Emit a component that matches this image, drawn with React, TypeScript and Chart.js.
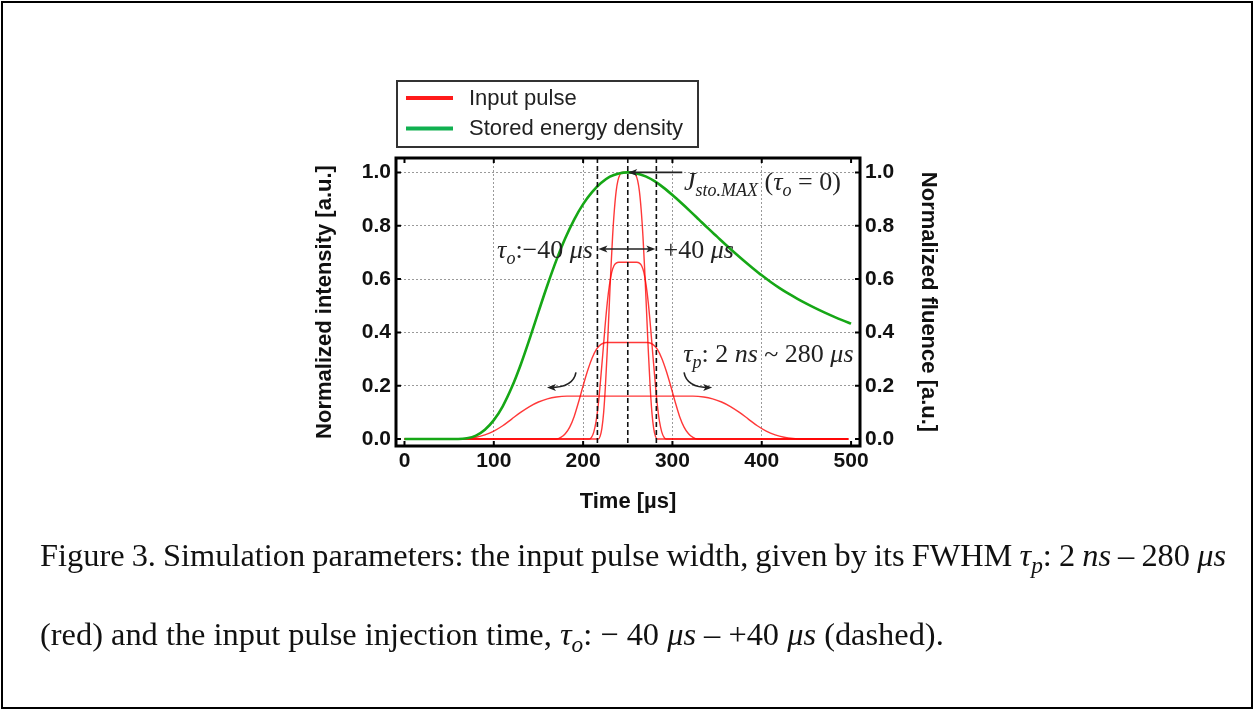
import React, { useEffect, useLayoutEffect, useRef } from "react";
import { Chart, registerables } from "chart.js";

Chart.register(...registerables);

// ---------- data ----------
const timeTicks = [0, 100, 200, 300, 400, 500];
const valueTicks = [0, 0.2, 0.4, 0.6, 0.8, 1.0];

// Stored energy density (green)
const storedTime = [0, 60, 70, 80, 90, 100, 110, 120, 130, 140, 150, 160, 170, 180, 190, 200, 210, 220, 230, 240, 250, 260, 270, 280, 290, 300, 310, 320, 330, 340, 350, 360, 370, 380, 390, 400, 410, 420, 430, 440, 450, 460, 470, 480, 490, 500];
const storedEnergy = [0, 0, 0.003, 0.013, 0.035, 0.071, 0.123, 0.193, 0.278, 0.375, 0.477, 0.577, 0.67, 0.753, 0.823, 0.881, 0.926, 0.96, 0.984, 0.996, 1.0, 0.996, 0.985, 0.967, 0.943, 0.915, 0.885, 0.854, 0.822, 0.79, 0.759, 0.728, 0.698, 0.669, 0.641, 0.614, 0.589, 0.566, 0.545, 0.526, 0.508, 0.491, 0.475, 0.46, 0.446, 0.433];

// Input pulses (red), from the narrowest to the widest FWHM
const pulse1Time = [0, 217, 219, 221, 223, 225, 227, 229, 231, 233, 235, 237, 239, 241, 243, 257, 259, 261, 263, 265, 267, 269, 271, 273, 275, 277, 279, 281, 283, 497];
const pulse1Value = [0, 0, 0.01, 0.04, 0.1, 0.2, 0.33, 0.48, 0.63, 0.76, 0.86, 0.93, 0.97, 0.99, 1.0, 1.0, 0.99, 0.97, 0.93, 0.86, 0.76, 0.63, 0.48, 0.33, 0.2, 0.1, 0.04, 0.01, 0, 0];

const pulse2Time = [0, 207, 209.5, 212, 214.5, 217, 219.5, 222, 224.5, 227, 229.5, 232, 234.5, 237, 240, 260, 263, 265.5, 268, 270.5, 273, 275.5, 278, 280.5, 283, 285.5, 288, 290.5, 293, 497];
const pulse2Value = [0, 0, 0.007, 0.027, 0.066, 0.13, 0.22, 0.318, 0.42, 0.51, 0.578, 0.625, 0.65, 0.66, 0.663, 0.663, 0.66, 0.65, 0.625, 0.578, 0.51, 0.42, 0.318, 0.22, 0.13, 0.066, 0.027, 0.007, 0, 0];

const pulse3Time = [0, 170, 175, 180, 185, 190, 195, 200, 205, 210, 215, 220, 226, 272, 278, 283, 288, 293, 298, 303, 308, 313, 318, 323, 328, 497];
const pulse3Value = [0, 0, 0.006, 0.02, 0.045, 0.085, 0.14, 0.2, 0.256, 0.303, 0.337, 0.355, 0.362, 0.362, 0.355, 0.337, 0.303, 0.256, 0.2, 0.14, 0.085, 0.045, 0.02, 0.006, 0, 0];

const pulse4Time = [0, 60, 70, 80, 90, 100, 110, 120, 130, 140, 150, 160, 170, 182, 323, 335, 345, 355, 365, 375, 385, 395, 405, 415, 425, 435, 445, 497];
const pulse4Value = [0, 0, 0.002, 0.007, 0.016, 0.03, 0.05, 0.075, 0.1, 0.122, 0.139, 0.151, 0.158, 0.161, 0.161, 0.158, 0.151, 0.139, 0.122, 0.1, 0.075, 0.05, 0.03, 0.016, 0.007, 0.002, 0, 0];

// Injection times (dashed lines): tau_o = -40, 0, +40 us, as drawn
const injectionTimes = [216, 250, 282];

// ---------- layout / style ----------
const W = 1255;
const H = 711;
const X_MIN = -9.5;
const X_MAX = 510;
const Y_MIN = -0.026;
const Y_MAX = 1.054;

const SANS = "'Liberation Sans', Arial, sans-serif";
const SERIF = "'Liberation Serif', 'Times New Roman', serif";
const RED = "rgba(255,0,0,0.78)";
const GREEN = "#16a716";
const NOTE = 26;
const CAPTION_WIDTH = 1186;

const pts = (xs: number[], ys: number[]) => xs.map((x, i) => ({ x, y: ys[i] }));

type Part = { t: string; it?: boolean; sub?: boolean };

function drawRich(ctx: CanvasRenderingContext2D, x: number, y: number, parts: Part[], size: number, align: "left" | "right") {
  const fontOf = (p: Part) => `${p.it ? "italic " : ""}${p.sub ? Math.round(size * 0.7) : size}px ${SERIF}`;
  let total = 0;
  for (const p of parts) {
    ctx.font = fontOf(p);
    total += ctx.measureText(p.t).width;
  }
  let cx = align === "left" ? x : x - total;
  ctx.textBaseline = "alphabetic";
  ctx.textAlign = "left";
  for (const p of parts) {
    ctx.font = fontOf(p);
    ctx.fillText(p.t, cx, p.sub ? y + size * 0.25 : y);
    cx += ctx.measureText(p.t).width;
  }
}

function arrowHead(ctx: CanvasRenderingContext2D, tx: number, ty: number, angle: number, len = 9, half = 3.5) {
  ctx.save();
  ctx.translate(tx, ty);
  ctx.rotate(angle);
  ctx.beginPath();
  ctx.moveTo(0, 0);
  ctx.lineTo(-len, -half);
  ctx.lineTo(-len * 0.75, 0);
  ctx.lineTo(-len, half);
  ctx.closePath();
  ctx.fill();
  ctx.restore();
}

const overlayPlugin = {
  id: "overlay",
  afterDatasetsDraw(chart: any) {
    const { ctx, chartArea: a, scales } = chart;
    const xs = scales.x;
    const ys = scales.y;
    const px = (t: number) => xs.getPixelForValue(t);
    const py = (v: number) => ys.getPixelForValue(v);
    ctx.save();

    // dashed injection-time lines
    ctx.setLineDash([5, 3]);
    ctx.strokeStyle = "#111";
    ctx.lineWidth = 1.6;
    for (const t of injectionTimes) {
      ctx.beginPath();
      ctx.moveTo(px(t), a.top);
      ctx.lineTo(px(t), a.bottom);
      ctx.stroke();
    }
    ctx.setLineDash([]);

    // frame
    ctx.strokeStyle = "#000";
    ctx.lineWidth = 3;
    ctx.strokeRect(a.left, a.top, a.right - a.left, a.bottom - a.top);

    // inward tick marks
    ctx.lineWidth = 2;
    for (const t of timeTicks) {
      const x = px(t);
      ctx.beginPath();
      ctx.moveTo(x, a.bottom);
      ctx.lineTo(x, a.bottom - 5);
      ctx.moveTo(x, a.top);
      ctx.lineTo(x, a.top + 5);
      ctx.stroke();
    }
    for (const v of valueTicks) {
      const y = py(v);
      ctx.beginPath();
      ctx.moveTo(a.left, y);
      ctx.lineTo(a.left + 5, y);
      ctx.moveTo(a.right, y);
      ctx.lineTo(a.right - 5, y);
      ctx.stroke();
    }

    // annotations
    ctx.fillStyle = "#222";
    ctx.strokeStyle = "#222";
    ctx.lineWidth = 1.6;

    // J_sto.MAX arrow
    ctx.beginPath();
    ctx.moveTo(px(311), py(1.0));
    ctx.lineTo(px(252), py(1.0));
    ctx.stroke();
    arrowHead(ctx, px(250.5), py(1.0), Math.PI);
    drawRich(ctx, px(313), py(0.935), [
      { t: "J", it: true },
      { t: "sto.MAX", it: true, sub: true },
      { t: " (" },
      { t: "τ", it: true },
      { t: "o", it: true, sub: true },
      { t: " = 0)" },
    ], NOTE, "left");

    // double arrow between the -40 / +40 lines
    const yArr = py(0.713);
    ctx.beginPath();
    ctx.moveTo(px(injectionTimes[0]) + 4, yArr);
    ctx.lineTo(px(injectionTimes[2]) - 4, yArr);
    ctx.stroke();
    arrowHead(ctx, px(injectionTimes[0]) + 1, yArr, Math.PI);
    arrowHead(ctx, px(injectionTimes[2]) - 1, yArr, 0);
    drawRich(ctx, px(211), py(0.68), [
      { t: "τ", it: true },
      { t: "o", it: true, sub: true },
      { t: ":−40 " },
      { t: "μs", it: true },
    ], NOTE, "right");
    drawRich(ctx, px(290), py(0.68), [
      { t: "+40 " },
      { t: "μs", it: true },
    ], NOTE, "left");

    // tau_p label
    drawRich(ctx, px(312), py(0.29), [
      { t: "τ", it: true },
      { t: "p", it: true, sub: true },
      { t: ": 2 " },
      { t: "ns", it: true },
      { t: " ~ 280 " },
      { t: "μs", it: true },
    ], NOTE, "left");

    // curved arrows
    ctx.lineWidth = 1.6;
    ctx.beginPath();
    ctx.moveTo(px(192), py(0.25));
    ctx.quadraticCurveTo(px(189), py(0.193), px(163), py(0.193));
    ctx.stroke();
    arrowHead(ctx, px(159.5), py(0.193), Math.PI);
    ctx.beginPath();
    ctx.moveTo(px(313), py(0.25));
    ctx.quadraticCurveTo(px(316), py(0.193), px(341), py(0.193));
    ctx.stroke();
    arrowHead(ctx, px(344.5), py(0.193), 0);

    // legend
    const lx = a.left + 1;
    const ly = a.top - 77;
    ctx.lineWidth = 2;
    ctx.strokeStyle = "#333";
    ctx.strokeRect(lx, ly, 301, 66);
    ctx.lineWidth = 4;
    ctx.strokeStyle = "#ff1a1a";
    ctx.beginPath();
    ctx.moveTo(lx + 9, ly + 17);
    ctx.lineTo(lx + 56, ly + 17);
    ctx.stroke();
    ctx.strokeStyle = "#10b050";
    ctx.beginPath();
    ctx.moveTo(lx + 9, ly + 47.5);
    ctx.lineTo(lx + 56, ly + 47.5);
    ctx.stroke();
    ctx.fillStyle = "#222";
    ctx.font = `22px ${SANS}`;
    ctx.textAlign = "left";
    ctx.textBaseline = "middle";
    ctx.fillText("Input pulse", lx + 72, ly + 18);
    ctx.fillText("Stored energy density", lx + 72, ly + 48);

    ctx.restore();
  },
};

export default function App() {
  const ref = useRef<HTMLCanvasElement>(null);
  const line1 = useRef<HTMLSpanElement>(null);

  useLayoutEffect(() => {
    // fit the first (justified) caption line to the text width
    const el = line1.current;
    if (!el) return;
    el.style.wordSpacing = "0px";
    const w = el.getBoundingClientRect().width;
    const spaces = (el.textContent || "").split(" ").length - 1;
    if (spaces > 0) el.style.wordSpacing = `${(CAPTION_WIDTH - w) / spaces}px`;
  }, []);

  useEffect(() => {
    document.body.style.margin = "0";
    const tickFont = { family: SANS, size: 21, weight: "bold" as const };
    const titleFont = { family: SANS, size: 22, weight: "bold" as const };
    const gridColor = (hidden: number[]) => (c: any) =>
      c.tick && hidden.includes(c.tick.value) ? "rgba(0,0,0,0)" : "#9a9a9a";

    const mkRed = (xs: number[], ys: number[]) => ({
      label: "Input pulse",
      data: pts(xs, ys),
      borderColor: RED,
      borderWidth: 1.4,
      pointRadius: 0,
      cubicInterpolationMode: "monotone" as const,
      fill: false,
    });

    const chart = new Chart(ref.current!, {
      type: "line",
      data: {
        datasets: [
          {
            label: "Stored energy density",
            data: pts(storedTime, storedEnergy),
            borderColor: GREEN,
            borderWidth: 2.6,
            pointRadius: 0,
            cubicInterpolationMode: "monotone",
            fill: false,
          },
          mkRed(pulse1Time, pulse1Value),
          mkRed(pulse2Time, pulse2Value),
          mkRed(pulse3Time, pulse3Value),
          mkRed(pulse4Time, pulse4Value),
        ],
      },
      options: {
        responsive: false,
        animation: false,
        devicePixelRatio: 1,
        layout: { padding: { left: 300, top: 158, right: 295, bottom: 165 } },
        plugins: { legend: { display: false }, tooltip: { enabled: false }, title: { display: false } },
        scales: {
          x: {
            type: "linear",
            min: X_MIN,
            max: X_MAX,
            afterBuildTicks: (s: any) => { s.ticks = timeTicks.map((v) => ({ value: v })); },
            afterFit: (s: any) => { s.height = 100; s.paddingLeft = 0; s.paddingRight = 0; },
            ticks: { font: tickFont, color: "#111", padding: 3, maxRotation: 0, autoSkip: false, callback: (v: any) => String(v) },
            grid: { color: gridColor([0, 500]), lineWidth: 1, drawTicks: false },
            border: { display: false, dash: [2, 2] },
            title: { display: true, text: "Time [µs]", font: titleFont, color: "#111", padding: { top: 0, bottom: 31 } },
          },
          y: {
            type: "linear",
            position: "left",
            min: Y_MIN,
            max: Y_MAX,
            afterBuildTicks: (s: any) => { s.ticks = valueTicks.map((v) => ({ value: v })); },
            afterFit: (s: any) => { s.width = 96; s.paddingTop = 0; s.paddingBottom = 0; },
            ticks: { font: tickFont, color: "#111", padding: 5, autoSkip: false, callback: (v: any) => Number(v).toFixed(1) },
            grid: { color: gridColor([0]), lineWidth: 1, drawTicks: false },
            border: { display: false, dash: [2, 2] },
            title: { display: true, text: "Normalized intensity [a.u.]", font: titleFont, color: "#111", padding: { top: 12, bottom: 0 } },
          },
          y2: {
            type: "linear",
            position: "right",
            min: Y_MIN,
            max: Y_MAX,
            afterBuildTicks: (s: any) => { s.ticks = valueTicks.map((v) => ({ value: v })); },
            afterFit: (s: any) => { s.width = 100; s.paddingTop = 0; s.paddingBottom = 0; },
            ticks: { font: tickFont, color: "#111", padding: 5, autoSkip: false, callback: (v: any) => Number(v).toFixed(1) },
            grid: { drawOnChartArea: false, drawTicks: false },
            border: { display: false },
            title: { display: true, text: "Normalized fluence [a.u.]", font: titleFont, color: "#111", padding: { top: 19, bottom: 0 } },
          },
        },
      },
      plugins: [overlayPlugin],
    } as any);
    return () => chart.destroy();
  }, []);

  const cap: React.CSSProperties = {
    position: "absolute",
    left: 40,
    fontFamily: SERIF,
    fontSize: 32.4,
    lineHeight: "40px",
    color: "#111",
    whiteSpace: "pre",
  };
  const sub: React.CSSProperties = { fontSize: "0.72em", position: "relative", top: "0.3em" };

  return (
    <div style={{ position: "relative", width: W, height: H, background: "#fff", overflow: "hidden" }}>
      <canvas ref={ref} width={W} height={H} style={{ position: "absolute", left: 0, top: 0, width: W, height: H }} />
      <div
        style={{
          position: "absolute", left: 1, top: 1, width: W - 3, height: H - 3,
          border: "2px solid #000", boxSizing: "border-box", pointerEvents: "none",
        }}
      />
      <div style={{ ...cap, top: 535 }}>
        <span ref={line1} style={{ display: "inline-block", whiteSpace: "pre" }}>
          Figure 3. Simulation parameters: the input pulse width, given by its FWHM <i>τ</i><i style={sub}>p</i>: 2 <i>ns</i> – 280 <i>μs</i>
        </span>
      </div>
      <div style={{ ...cap, top: 614 }}>
        (red) and the input pulse injection time, <i>τ</i><i style={sub}>o</i>: − 40 <i>μs</i> – +40 <i>μs</i> (dashed).
      </div>
    </div>
  );
}
